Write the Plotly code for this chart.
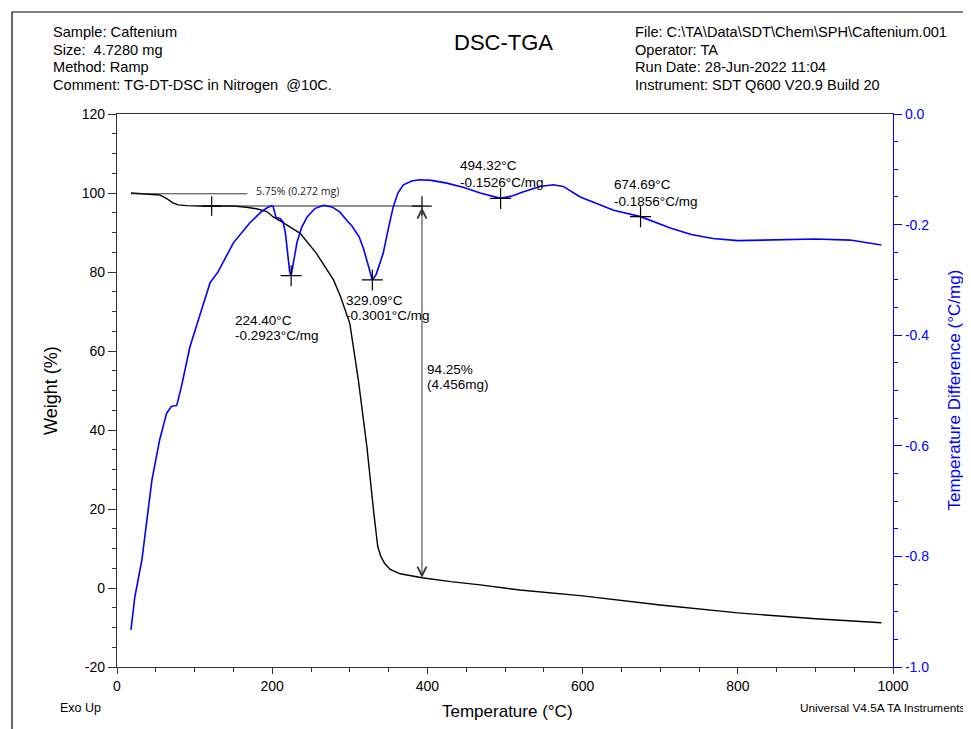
import plotly.graph_objects as go

# ---------------- data ----------------
temp_w = [18, 40, 55, 64, 72, 79, 90, 107, 130, 150, 167, 180, 193, 201, 214, 236, 257, 279, 288,
          300, 311, 322, 331, 336, 340, 345, 352, 365, 393, 430, 468, 519, 600, 700, 800, 900, 985]
weight = [100.0, 99.8, 99.5, 98.6, 97.5, 97.0, 96.8, 96.7, 96.7, 96.7, 96.4, 96.0, 95.3, 94.0, 92.5,
          89.8, 84.7, 78.0, 73.8, 67.0, 52.7, 35.8, 18.9, 10.5, 8.0, 6.2, 4.7, 3.6, 2.6, 1.6, 0.8,
          -0.5, -2.0, -4.3, -6.3, -7.8, -8.8]

temp_d = [18, 23, 32, 45, 55, 64, 70, 77, 83, 94, 111, 120, 130, 150, 171, 185, 193, 199, 201, 203,
          205, 210, 214, 217, 220, 222.5, 224.4, 226.5, 229, 232, 238, 245, 255, 266, 277, 287, 296,
          303, 312, 318, 324, 329.09, 334, 338, 343, 350, 356, 362, 369, 380, 390, 405, 425, 447,
          468, 494.32, 510, 523, 545, 562, 575, 597, 620, 640, 674.69, 713, 740, 768, 800, 854,
          900, 945, 985]
dsc = [-0.933, -0.873, -0.807, -0.662, -0.589, -0.541, -0.529, -0.527, -0.493, -0.421, -0.345,
       -0.305, -0.286, -0.233, -0.197, -0.178, -0.170, -0.166, -0.167, -0.180, -0.187, -0.189,
       -0.195, -0.215, -0.255, -0.285, -0.2923, -0.275, -0.250, -0.232, -0.205, -0.186, -0.171,
       -0.165, -0.168, -0.177, -0.192, -0.203, -0.222, -0.245, -0.275, -0.3001, -0.290, -0.272,
       -0.252, -0.205, -0.168, -0.143, -0.128, -0.121, -0.119, -0.120, -0.125, -0.133, -0.143,
       -0.1526, -0.148, -0.141, -0.131, -0.128, -0.131, -0.150, -0.163, -0.174, -0.1856, -0.206,
       -0.218, -0.225, -0.229, -0.227, -0.226, -0.228, -0.237]

peak_T = [224.40, 329.09, 494.32, 674.69]
peak_R = [-0.2923, -0.3001, -0.1526, -0.1856]
peak_labels = [("224.40°C", "-0.2923°C/mg"), ("329.09°C", "-0.3001°C/mg"),
               ("494.32°C", "-0.1526°C/mg"), ("674.69°C", "-0.1856°C/mg")]

step_T = [122, 393]          # analysis marks on the weight curve
step_W = 96.7
residue_W = 2.6
first_loss_line_T = [18, 168]
first_loss_line_W = 99.8
first_loss_label = "5.75% (0.272 mg)"
second_loss_label = ("94.25%", "(4.456mg)")

x_ticks = [0, 200, 400, 600, 800, 1000]
y_ticks = [-20, 0, 20, 40, 60, 80, 100, 120]
y_tick_text = ["-20", "0", "20", "40", "60", "80", "100", "120"]
y2_ticks = [-1.0, -0.8, -0.6, -0.4, -0.2, 0.0]
y2_tick_text = ["-1.0", "-0.8", "-0.6", "-0.4", "-0.2", "0.0"]

header_left = ["Sample: Caftenium", "Size:\u00a0 4.7280 mg", "Method: Ramp",
               "Comment: TG-DT-DSC in Nitrogen\u00a0 @10C."]
header_right = [r"File: C:\TA\Data\SDT\Chem\SPH\Caftenium.001", "Operator: TA",
                "Run Date: 28-Jun-2022 11:04", "Instrument: SDT Q600 V20.9 Build 20"]

# ---------------- geometry helpers ----------------
OFF = 8                       # page body margin in the browser
W, H = 971 - OFF, 729 - OFF
L, R, T, B = 117 - OFF, 78, 114 - OFF, 62
PW, PH = W - L - R, H - T - B


def px(x):
    """screen pixel x -> paper"""
    return (x - OFF - L) / PW


def py(y):
    """screen pixel y -> paper"""
    return (H - B - (y - OFF)) / PH


FONT = "Liberation Sans, Arial, sans-serif"
BLUE = "#0000ff"

fig = go.Figure()

fig.add_trace(go.Scatter(x=temp_w, y=weight, mode="lines",
                         line=dict(color="black", width=1.4), yaxis="y", hoverinfo="skip"))
fig.add_trace(go.Scatter(x=temp_d, y=dsc, mode="lines",
                         line=dict(color=BLUE, width=1.6), yaxis="y2", hoverinfo="skip"))

# horizontal baseline for the step and the first-loss leader line
fig.add_trace(go.Scatter(x=step_T, y=[step_W, step_W], mode="lines",
                         line=dict(color="#222", width=1.1), yaxis="y", hoverinfo="skip"))
fig.add_trace(go.Scatter(x=first_loss_line_T, y=[first_loss_line_W] * 2, mode="lines",
                         line=dict(color="#222", width=0.9), yaxis="y", hoverinfo="skip"))

# crosses
fig.add_trace(go.Scatter(x=step_T, y=[step_W, step_W], mode="markers", yaxis="y",
                         marker=dict(symbol="cross-thin", size=14,
                                     line=dict(color="black", width=1.2)), hoverinfo="skip"))
fig.add_trace(go.Scatter(x=peak_T, y=peak_R, mode="markers", yaxis="y2",
                         marker=dict(symbol="cross-thin", size=15,
                                     line=dict(color="black", width=1.2)), hoverinfo="skip"))

ann = []


def text(x, y, s, size=14, color="black", xanchor="left", xref="paper", yref="paper",
         family=FONT, angle=0):
    ann.append(dict(x=x, y=y, xref=xref, yref=yref, text=s, showarrow=False,
                    xanchor=xanchor, yanchor="middle", textangle=angle,
                    font=dict(family=family, size=size, color=color)))


# header
for i, s in enumerate(header_left):
    text(px(51), py(32 + i * 17.7), s, size=14.6)
for i, s in enumerate(header_right):
    text(px(633), py(32 + i * 17.7), s, size=14.6)
text(px(503), py(43), "DSC-TGA", size=22, xanchor="center")

# footer / titles
text(px(58), py(708), "Exo Up", size=12.5)
text(px(798), py(708), "Universal V4.5A TA Instruments", size=11.8)
text(px(507), py(711), "Temperature (°C)", size=17, xanchor="center")
text(px(50.5), 0.5, "Weight (%)", size=18, xanchor="center", angle=-90)
text(px(954), 0.5, "Temperature Difference (°C/mg)", size=17, xanchor="center",
     color=BLUE, angle=-90)

# peak labels
label_pos = [(233, 320, 335), (344, 300.7, 315.7), (458, 165.7, 182.3), (612, 184.3, 201)]
for (lx, y1, y2), (a, b) in zip(label_pos, peak_labels):
    text(px(lx), py(y1), a, size=13.5)
    text(px(lx), py(y2), b, size=13.5)

text(px(425), py(369.3), second_loss_label[0], size=13.5)
text(px(425), py(384.3), second_loss_label[1], size=13.5)
text(px(254), py(190.5), first_loss_label, size=10.5, family="Open Sans, Carlito, sans-serif",
     color="#222")

# double-headed arrow for the main step
ann.append(dict(x=step_T[1], y=residue_W, ax=step_T[1], ay=step_W, xref="x", yref="y",
                axref="x", ayref="y", text="", showarrow=True, arrowhead=5,
                arrowside="end+start", arrowsize=1.8, arrowwidth=1, arrowcolor="#333"))

# page frame
shapes = [
    dict(type="line", xref="paper", yref="paper", x0=px(12), x1=px(980), y0=py(12), y1=py(12),
         line=dict(color="black", width=1.2)),
    dict(type="line", xref="paper", yref="paper", x0=px(12), x1=px(12), y0=py(12), y1=py(740),
         line=dict(color="black", width=1.2)),
]

fig.update_layout(
    width=W, height=H, margin=dict(l=L, r=R, t=T, b=B),
    plot_bgcolor="white", paper_bgcolor="white", showlegend=False,
    font=dict(family=FONT, size=14, color="black"),
    annotations=ann, shapes=shapes,
    xaxis=dict(range=[0, 1000], tickvals=x_ticks, ticks="outside", ticklen=6, tickcolor="#333",
               showline=True, linecolor="#333", linewidth=1.2, mirror=True, showgrid=False,
               zeroline=False, tickfont=dict(size=14),
               minor=dict(dtick=50, ticklen=4, ticks="outside", tickcolor="#333", showgrid=False)),
    yaxis=dict(range=[-20, 120], tickvals=y_ticks, ticktext=y_tick_text, ticks="outside",
               ticklen=8, tickcolor="#333", showline=True, linecolor="#333", linewidth=1.2,
               showgrid=False, zeroline=False, tickfont=dict(size=14),
               minor=dict(dtick=5, ticklen=4, ticks="outside", tickcolor="#333", showgrid=False)),
    yaxis2=dict(range=[-1, 0], overlaying="y", side="right", tickvals=y2_ticks,
                ticktext=y2_tick_text, ticks="outside", ticklen=8, tickcolor=BLUE,
                showline=True, linecolor=BLUE, linewidth=1.2, showgrid=False, zeroline=False,
                tickfont=dict(size=14, color=BLUE),
                minor=dict(dtick=0.05, ticklen=4, ticks="outside", tickcolor=BLUE,
                           showgrid=False)),
)

fig.write_html("out.html")
